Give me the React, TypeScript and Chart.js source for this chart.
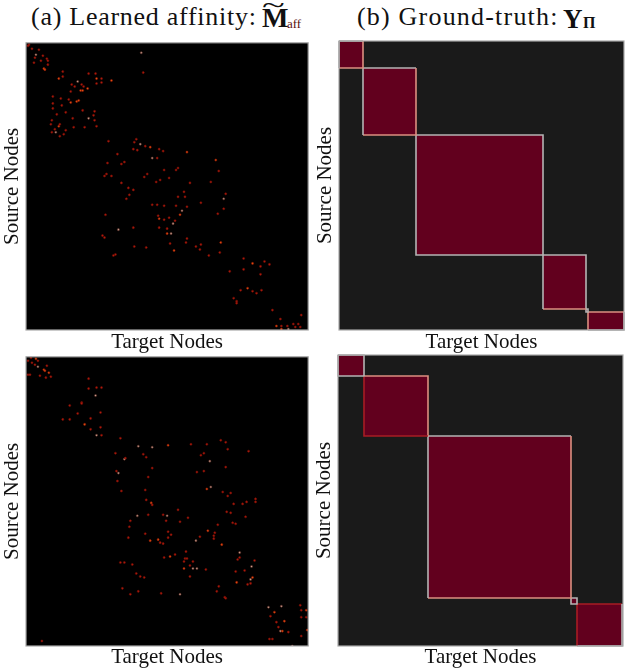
import React, { useEffect, useRef } from "react";
import { Chart, registerables } from "chart.js";

Chart.register(...registerables);

type P = [number, number];

// Node counts: target node (x), source node (y)
const matrixSizeTop: P = [284, 289];
const matrixSizeBottom: P = [284, 291];
const truthSizeTop: P = [285, 289];
const truthSizeBottom: P = [285, 291];

const topAffinityRed: P[] = [[3,2],[2,3],[6,6],[13,7],[17,13],[9,15],[15,18],[21,16],[22,18],[22,22],[8,20],[37,29],[37,34],[63,31],[70,31],[76,36],[71,41],[76,40],[46,42],[49,44],[56,42],[58,44],[45,49],[27,54],[35,56],[43,57],[27,61],[36,63],[27,66],[57,68],[69,69],[31,72],[40,70],[68,73],[47,76],[69,78],[26,78],[25,82],[34,82],[29,87],[48,85],[59,85],[71,84],[40,88],[26,90],[38,92],[34,94],[83,99],[111,97],[109,100],[120,104],[108,107],[112,108],[134,107],[138,109],[132,116],[92,112],[82,121],[99,120],[96,122],[153,126],[151,128],[139,128],[194,129],[122,132],[81,132],[79,134],[86,134],[119,135],[135,138],[144,136],[118,30],[131,140],[96,141],[165,141],[186,140],[103,146],[108,148],[104,153],[101,157],[159,150],[153,155],[160,155],[201,152],[127,163],[132,163],[139,164],[151,164],[176,161],[162,165],[199,167],[193,172],[80,173],[133,174],[139,178],[144,176],[150,179],[108,186],[134,186],[142,187],[77,194],[79,196],[162,197],[161,201],[145,202],[171,205],[176,203],[175,208],[109,205],[121,206],[195,211],[184,214],[90,213],[88,214],[219,217],[240,220],[236,225],[245,223],[219,228],[205,230],[236,233],[216,249],[228,250],[232,252],[237,249],[209,257],[212,260],[212,262],[248,269],[256,278],[277,274],[257,285],[263,285],[269,283],[274,283],[271,286],[276,286]];
const topAffinityOrange: P[] = [[18,26],[19,27],[33,36],[71,36],[86,38],[62,46],[55,48],[57,48],[45,60],[51,59],[53,58],[33,84],[125,105],[162,110],[191,118],[155,173],[134,177],[142,192],[196,201],[149,209],[228,222],[223,247],[252,285],[257,288]];
const topAffinityPale: P[] = [[10,12],[52,39],[63,76],[30,90],[115,102],[127,116],[116,10],[199,157],[157,169],[148,182],[93,188],[146,192],[264,288]];

const bottomAffinityRed: P[] = [[2,4],[5,1],[12,4],[6,6],[9,8],[21,9],[2,18],[4,18],[14,19],[20,21],[25,20],[63,22],[63,32],[71,31],[76,31],[56,46],[56,47],[44,49],[52,57],[75,56],[37,63],[44,63],[65,62],[75,71],[65,73],[76,79],[95,82],[166,88],[182,88],[196,84],[201,86],[203,93],[224,95],[90,97],[118,98],[121,101],[100,102],[176,99],[179,97],[201,111],[127,112],[91,115],[172,116],[179,115],[123,121],[92,125],[96,135],[120,134],[198,136],[206,137],[203,140],[231,143],[231,146],[222,146],[218,148],[209,148],[121,144],[127,149],[153,154],[123,159],[138,159],[163,162],[141,165],[155,166],[105,165],[104,171],[202,156],[206,157],[221,161],[208,167],[211,168],[193,169],[190,177],[175,181],[120,178],[143,176],[146,179],[143,182],[103,182],[189,180],[189,183],[135,187],[138,188],[161,196],[150,199],[139,202],[160,203],[162,203],[215,202],[213,204],[230,205],[159,206],[168,206],[95,207],[99,207],[107,209],[165,210],[181,214],[211,216],[220,215],[111,218],[115,221],[119,222],[165,221],[226,228],[223,229],[194,231],[192,236],[97,233],[113,236],[105,239],[136,238],[200,242],[201,243],[276,250],[277,255],[246,261],[277,262],[282,262],[252,267],[254,272],[264,277],[277,281],[245,284],[248,284],[16,286]];
const bottomAffinityOrange: P[] = [[10,2],[18,13],[19,14],[23,16],[59,68],[143,89],[182,133],[126,147],[183,175],[133,184],[125,185],[197,189],[145,201],[159,213],[228,222],[212,227],[282,255],[250,257],[260,266],[258,276],[283,275]];
const bottomAffinityPale: P[] = [[12,10],[70,39],[71,79],[113,90],[127,91],[99,103],[185,105],[93,117],[186,131],[112,160],[142,160],[171,185],[215,197],[168,213],[172,213],[227,211],[226,224],[155,239],[244,252],[257,251],[256,276],[268,291]];

// Boundaries of the ground-truth groups, in nodes
const topGroupsTarget = [0, 24, 77, 204, 247, 249, 285];
const topGroupsSource = [0, 27, 94, 214, 268, 271, 289];
const bottomGroupsTarget = [0, 26, 90, 233, 239, 284];
const bottomGroupsSource = [0, 21, 81, 243, 249, 291];

const GRAY = "#b4b4b4";
const PINK = "#dc8f80";
const RED = "#a81c24";
// top, right, bottom, left edge of each group
const topEdges = [
  [GRAY, PINK, PINK, GRAY],
  [GRAY, PINK, PINK, GRAY],
  [GRAY, GRAY, GRAY, GRAY],
  [GRAY, GRAY, PINK, GRAY],
  [GRAY, GRAY, GRAY, GRAY],
  [PINK, GRAY, GRAY, PINK],
];
const bottomEdges = [
  [GRAY, GRAY, GRAY, GRAY],
  [PINK, PINK, RED, RED],
  [GRAY, PINK, PINK, GRAY],
  [GRAY, GRAY, GRAY, GRAY],
  [RED, GRAY, GRAY, RED],
];

const SERIF = "'Liberation Serif', serif";
const BLOCK = "#62001e";

const panelFrame = {
  id: "panelFrame",
  beforeDatasetsDraw(chart: any) {
    const { ctx, chartArea: a } = chart;
    ctx.save();
    ctx.fillStyle = chart.options.plugins.panelFrame.background;
    ctx.fillRect(a.left, a.top, a.right - a.left, a.bottom - a.top);
    ctx.restore();
  },
  afterDatasetsDraw(chart: any) {
    const { ctx, chartArea: a } = chart;
    ctx.save();
    ctx.strokeStyle = "#a8a8a8";
    ctx.lineWidth = 1.2;
    ctx.strokeRect(a.left, a.top, a.right - a.left, a.bottom - a.top);
    ctx.restore();
  },
};

function affinityDatasets(red: P[], orange: P[], pale: P[]) {
  const dot = (data: P[], color: string, halo: string) => ({
    data,
    backgroundColor: color,
    borderColor: halo,
    borderWidth: 0.8,
    pointRadius: 1.05,
    showLine: false,
  });
  return [
    dot(red, "#b01c0c", "rgba(110,12,6,0.7)"),
    dot(orange, "#e4500f", "rgba(140,24,8,0.7)"),
    dot(pale, "#c8a090", "rgba(90,40,30,0.7)"),
  ];
}

function truthDatasets(xs: number[], ys: number[], edges: string[][]) {
  const fills = xs.slice(1).map((x1, i) => ({
    data: [[xs[i], ys[i]], [x1, ys[i]]] as P[],
    showLine: true,
    fill: { value: ys[i + 1] },
    backgroundColor: BLOCK,
    borderWidth: 0,
    pointRadius: 0,
  }));
  const outlines = xs.slice(1).map((x1, i) => {
    const x0 = xs[i];
    const y0 = ys[i];
    const y1 = ys[i + 1];
    return {
      data: [[x0, y0], [x1, y0], [x1, y1], [x0, y1], [x0, y0]] as P[],
      showLine: true,
      fill: false,
      borderWidth: 1.6,
      pointRadius: 0,
      clip: false,
      segment: { borderColor: (c: any) => edges[i][c.p0DataIndex] },
    };
  });
  // The first dataset is painted last, so the outlines go first.
  return [...outlines, ...fills];
}

function Panel(props: {
  left: number; top: number; width: number; height: number;
  size: P; background: string; datasets: any[]; titlePad: { top: number; bottom: number };
  right: number;
}) {
  const ref = useRef<HTMLCanvasElement>(null);
  useEffect(() => {
    const axisTitle = (text: string, padding: any) => ({
      display: true, text, color: "#111",
      font: { family: SERIF, size: 21, lineHeight: 1.1 }, padding,
    });
    const chart = new Chart(ref.current as HTMLCanvasElement, {
      type: "scatter",
      data: { datasets: props.datasets },
      options: {
        animation: false,
        responsive: false,
        layout: { padding: { top: 3, right: props.right, bottom: 0, left: 0 } },
        plugins: {
          legend: { display: false },
          tooltip: { enabled: false },
          panelFrame: { background: props.background },
        } as any,
        scales: {
          x: {
            type: "linear", min: 0, max: props.size[0],
            grid: { display: false, drawTicks: false }, ticks: { display: false },
            border: { display: false },
            title: axisTitle("Target Nodes", props.titlePad),
          },
          y: {
            type: "linear", reverse: true, min: 0, max: props.size[1],
            grid: { display: false, drawTicks: false }, ticks: { display: false },
            border: { display: false },
            title: axisTitle("Source Nodes", { top: 1, bottom: 1.9 }),
          },
        },
      },
      plugins: [panelFrame as any],
    });
    return () => chart.destroy();
  }, []);
  return (
    <canvas
      ref={ref}
      width={props.width}
      height={props.height}
      style={{ position: "absolute", left: props.left, top: props.top, display: "block" }}
    />
  );
}

const titleStyle: React.CSSProperties = {
  position: "absolute", fontFamily: SERIF, color: "#111", whiteSpace: "nowrap", lineHeight: 1,
};

export default function App() {
  const topPad = { top: 1, bottom: 1.9 };
  const bottomPad = { top: 0, bottom: -1.1 };
  return (
    <div style={{ position: "fixed", left: 0, top: 0, width: 626, height: 668, overflow: "hidden", background: "#fff" }}>
      <span style={{ ...titleStyle, left: 31, top: 4, fontSize: 26, letterSpacing: 0.73 }}>(a) Learned affinity:</span>
      <span style={{ ...titleStyle, left: 262, top: 4, fontSize: 28, fontWeight: 700 }}>M</span>
      <span style={{ ...titleStyle, left: 262, top: -9, fontSize: 28, transform: "scaleX(1.5)", transformOrigin: "left" }}>~</span>
      <span style={{ ...titleStyle, left: 287, top: 17, fontSize: 13, color: "#5a1010" }}>aff</span>
      <span style={{ ...titleStyle, left: 357, top: 4, fontSize: 26, letterSpacing: 1.2 }}>(b) Ground-truth:</span>
      <span style={{ ...titleStyle, left: 563, top: 6, fontSize: 27, fontWeight: 700 }}>Y</span>
      <span style={{ ...titleStyle, left: 583, top: 15, fontSize: 16, fontWeight: 700 }}>&#x03A0;</span>
      <Panel left={0} top={38} width={313} height={318} right={3} titlePad={topPad} size={matrixSizeTop} background="#000"
        datasets={affinityDatasets(topAffinityRed, topAffinityOrange, topAffinityPale)} />
      <Panel left={313} top={38} width={313} height={318} right={2} titlePad={topPad} size={truthSizeTop} background="#1a1a1a"
        datasets={truthDatasets(topGroupsTarget, topGroupsSource, topEdges)} />
      <Panel left={0} top={352} width={313} height={316} right={3} titlePad={bottomPad} size={matrixSizeBottom} background="#000"
        datasets={affinityDatasets(bottomAffinityRed, bottomAffinityOrange, bottomAffinityPale)} />
      <Panel left={312} top={352} width={314} height={316} right={3} titlePad={bottomPad} size={truthSizeBottom} background="#1a1a1a"
        datasets={truthDatasets(bottomGroupsTarget, bottomGroupsSource, bottomEdges)} />
    </div>
  );
}
